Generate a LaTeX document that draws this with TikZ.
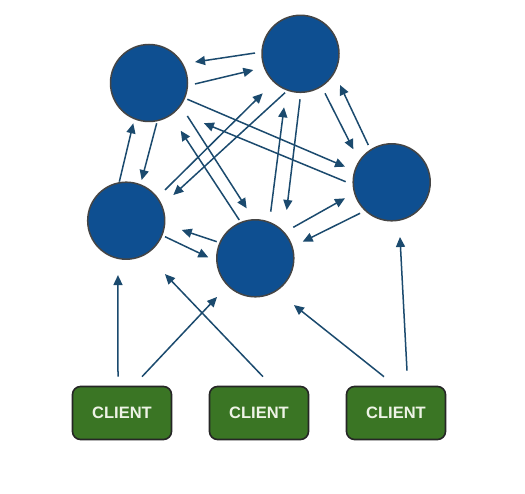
\documentclass[tikz,border=0pt]{standalone}
\usepackage{fontspec}
\setmainfont{Liberation Sans}
\usetikzlibrary{calc,arrows.meta}
\definecolor{nodeblue}{HTML}{0E4F91}
\definecolor{nodeedge}{HTML}{454545}
\definecolor{arrowcol}{HTML}{1B4A6E}
\definecolor{clientfill}{HTML}{3A7524}
\definecolor{clienttext}{HTML}{EEF3E6}
\tikzset{
  server/.style={circle, fill=nodeblue, draw=nodeedge, line width=1.5pt, minimum size=77pt, inner sep=0pt},
  clientbox/.style={rectangle, rounded corners=8pt, fill=clientfill, draw=black!85, line width=1.6pt,
    minimum width=99pt, minimum height=53pt, inner sep=0pt, text=clienttext,
    font=\bfseries\fontsize{16.5}{18}\selectfont},
  arr/.style={draw=arrowcol, line width=1.5pt, -{Triangle[length=10pt,width=9pt]}}
}
\begin{document}
\begin{tikzpicture}
\useasboundingbox[fill=white] (0,0) rectangle (525pt,-494pt);
\node[server] (A) at (149pt,-83pt) {};
\node[server] (B) at (300.5pt,-53.8pt) {};
\node[server] (C) at (391.7pt,-182.3pt) {};
\node[server] (D) at (126.2pt,-220.7pt) {};
\node[server] (E) at (255.3pt,-258.3pt) {};
\node[clientbox] (c1) at (122pt,-413pt) {CLIENT};
\node[clientbox] (c2) at (259pt,-413pt) {CLIENT};
\node[clientbox] (c3) at (396pt,-413pt) {CLIENT};
% server to server
\draw[arr] ($(B)+(179:45.5pt)$) -- ($(A)+(24.5:50.6pt)$);
\draw[arr] ($(A)+(-1.2:46pt)$) -- ($(B)+(199:49.9pt)$);
\draw[arr] ($(D)+(100:39.6pt)$) -- ($(A)+(248.7:43.3pt)$);
\draw[arr] ($(A)+(-79.2:41pt)$) -- ($(D)+(69.2:43.5pt)$);
\draw[arr] ($(A)+(-23:41.6pt)$) -- ($(C)+(161.5:49.2pt)$);
\draw[arr] ($(C)+(179.3:46pt)$) -- ($(A)+(-36.2:68pt)$);
\draw[arr] ($(A)+(-40.7:50.6pt)$) -- ($(E)+(99.8:50.7pt)$);
\draw[arr] ($(E)+(112.7:41.5pt)$) -- ($(A)+(-56.4:57.3pt)$);
\draw[arr] ($(D)+(38.4:49.5pt)$) -- ($(B)+(-133.7:54.7pt)$);
\draw[arr] ($(B)+(-111.7:41.9pt)$) -- ($(D)+(28.6:53.7pt)$);
\draw[arr] ($(E)+(71.7:49.1pt)$) -- ($(B)+(-107.1:56pt)$);
\draw[arr] ($(B)+(-90.6:45.5pt)$) -- ($(E)+(57:57.6pt)$);
\draw[arr] ($(B)+(-58.2:46.5pt)$) -- ($(C)+(139.3:50.6pt)$);
\draw[arr] ($(C)+(122.1:44pt)$) -- ($(B)+(-38.3:50.3pt)$);
\draw[arr] ($(E)+(39.2:49pt)$) -- ($(C)+(198.9:49.4pt)$);
\draw[arr] ($(C)+(-135.6:44.3pt)$) -- ($(E)+(19.3:50.2pt)$);
\draw[arr] ($(D)+(-22.4:42pt)$) -- ($(E)+(178.8:47pt)$);
\draw[arr] ($(E)+(156.7:42pt)$) -- ($(D)+(-9.5:56.3pt)$);
% clients to servers
\draw[arr] ($(c1.north)+(-4pt,9pt)$) -- ($(D)+(-98.6:55pt)$);
\draw[arr] ($(c1.north)+(20pt,9pt)$) -- ($(E)+(-134.7:54.4pt)$);
\draw[arr] ($(c2.north)+(4pt,9pt)$) -- ($(D)+(-54:66pt)$);
\draw[arr] ($(c3.north)+(-12pt,9pt)$) -- ($(E)+(-50.4:60.7pt)$);
\draw[arr] ($(c3.north)+(11pt,15pt)$) -- ($(C)+(-81.4:55.3pt)$);
\end{tikzpicture}
\end{document}
